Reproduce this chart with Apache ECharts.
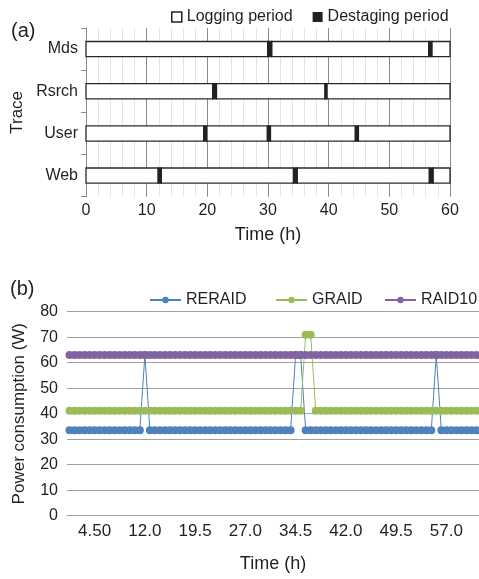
<!DOCTYPE html>
<html><head><meta charset="utf-8">
<script src="https://cdn.jsdelivr.net/npm/echarts@6/dist/echarts.min.js"></script>
<style>html,body{margin:0;padding:0;background:#fff}#c{width:479px;height:579px}</style>
</head><body><div id="c"></div>
<script>
// ---------- (a) logging / destaging timeline ----------
const traces = ['Mds', 'Rsrch', 'User', 'Web'];
const loggingPeriods = [
  ['Mds', 0, 29.95], ['Mds', 30.6, 56.5], ['Mds', 57.0, 60],
  ['Rsrch', 0, 20.9], ['Rsrch', 21.5, 39.4], ['Rsrch', 39.7, 60],
  ['User', 0, 19.4], ['User', 19.9, 29.9], ['User', 30.4, 44.4], ['User', 44.9, 60],
  ['Web', 0, 11.9], ['Web', 12.4, 34.2], ['Web', 34.8, 56.6], ['Web', 57.2, 60]
];
const destagingPeriods = [
  ['Mds', 29.95, 30.6], ['Mds', 56.5, 57.0],
  ['Rsrch', 20.9, 21.5], ['Rsrch', 39.4, 39.7],
  ['User', 19.4, 19.9], ['User', 29.9, 30.4], ['User', 44.4, 44.9],
  ['Web', 11.9, 12.4], ['Web', 34.2, 34.8], ['Web', 56.6, 57.2]
];

// ---------- (b) power consumption ----------
const times = [
  0.75, 1.5, 2.25, 3, 3.75, 4.5, 5.25, 6, 6.75, 7.5,
  8.25, 9, 9.75, 10.5, 11.25, 12, 12.75, 13.5, 14.25, 15,
  15.75, 16.5, 17.25, 18, 18.75, 19.5, 20.25, 21, 21.75, 22.5,
  23.25, 24, 24.75, 25.5, 26.25, 27, 27.75, 28.5, 29.25, 30,
  30.75, 31.5, 32.25, 33, 33.75, 34.5, 35.25, 36, 36.75, 37.5,
  38.25, 39, 39.75, 40.5, 41.25, 42, 42.75, 43.5, 44.25, 45,
  45.75, 46.5, 47.25, 48, 48.75, 49.5, 50.25, 51, 51.75, 52.5,
  53.25, 54, 54.75, 55.5, 56.25, 57, 57.75, 58.5, 59.25, 60,
  60.75, 61.5
];
const tickTimes = [4.5, 12, 19.5, 27, 34.5, 42, 49.5, 57];
const tickLabels = ['4.50', '12.0', '19.5', '27.0', '34.5', '42.0', '49.5', '57.0'];
const seriesNames = ['RERAID', 'GRAID', 'RAID10'];
const reraid = [
  33.5, 33.5, 33.5, 33.5, 33.5, 33.5, 33.5, 33.5, 33.5, 33.5,
  33.5, 33.5, 33.5, 33.5, 33.5, 63, 33.5, 33.5, 33.5, 33.5,
  33.5, 33.5, 33.5, 33.5, 33.5, 33.5, 33.5, 33.5, 33.5, 33.5,
  33.5, 33.5, 33.5, 33.5, 33.5, 33.5, 33.5, 33.5, 33.5, 33.5,
  33.5, 33.5, 33.5, 33.5, 33.5, 63, 63, 33.5, 33.5, 33.5,
  33.5, 33.5, 33.5, 33.5, 33.5, 33.5, 33.5, 33.5, 33.5, 33.5,
  33.5, 33.5, 33.5, 33.5, 33.5, 33.5, 33.5, 33.5, 33.5, 33.5,
  33.5, 33.5, 33.5, 63, 33.5, 33.5, 33.5, 33.5, 33.5, 33.5,
  33.5, 33.5
];
const graid = [
  41.2, 41.2, 41.2, 41.2, 41.2, 41.2, 41.2, 41.2, 41.2, 41.2,
  41.2, 41.2, 41.2, 41.2, 41.2, 41.2, 41.2, 41.2, 41.2, 41.2,
  41.2, 41.2, 41.2, 41.2, 41.2, 41.2, 41.2, 41.2, 41.2, 41.2,
  41.2, 41.2, 41.2, 41.2, 41.2, 41.2, 41.2, 41.2, 41.2, 41.2,
  41.2, 41.2, 41.2, 41.2, 41.2, 41.2, 41.2, 71, 71, 41.2,
  41.2, 41.2, 41.2, 41.2, 41.2, 41.2, 41.2, 41.2, 41.2, 41.2,
  41.2, 41.2, 41.2, 41.2, 41.2, 41.2, 41.2, 41.2, 41.2, 41.2,
  41.2, 41.2, 41.2, 41.2, 41.2, 41.2, 41.2, 41.2, 41.2, 41.2,
  41.2, 41.2
];
const raid10 = [
  63, 63, 63, 63, 63, 63, 63, 63, 63, 63,
  63, 63, 63, 63, 63, 63, 63, 63, 63, 63,
  63, 63, 63, 63, 63, 63, 63, 63, 63, 63,
  63, 63, 63, 63, 63, 63, 63, 63, 63, 63,
  63, 63, 63, 63, 63, 63, 63, 63, 63, 63,
  63, 63, 63, 63, 63, 63, 63, 63, 63, 63,
  63, 63, 63, 63, 63, 63, 63, 63, 63, 63,
  63, 63, 63, 63, 63, 63, 63, 63, 63, 63,
  63, 63
];

const FONT = "'Liberation Sans', Arial, Helvetica, sans-serif";
const TXT = '#231f20';

function periodRenderer(fill, stroke) {
  return function (params, api) {
    const cat = api.value(0);
    const a = api.coord([api.value(1), cat]);
    const b = api.coord([api.value(2), cat]);
    const h = api.size([0, 1])[1] * 0.36;
    return {
      type: 'rect',
      shape: { x: a[0], y: a[1] - h / 2, width: b[0] - a[0], height: h },
      style: { fill: fill, stroke: stroke, lineWidth: 1.3 }
    };
  };
}

function lineLegend(name, left) {
  return {
    left: left, top: 287, itemWidth: 31, itemHeight: 8,
    textStyle: { fontFamily: FONT, fontSize: 16, color: TXT },
    data: [name]
  };
}

const chart = echarts.init(document.getElementById('c'), null, { renderer: 'canvas' });
chart.setOption({
  animation: false,
  textStyle: { fontFamily: FONT, color: TXT },
  title: [
    { text: '(a)', left: 6, top: 16, textStyle: { fontFamily: FONT, fontSize: 20, fontWeight: 'normal', color: TXT } },
    { text: '(b)', left: 5, top: 274, textStyle: { fontFamily: FONT, fontSize: 20, fontWeight: 'normal', color: TXT } }
  ],
  legend: [
    {
      left: 166, top: 4, itemWidth: 10, itemHeight: 10, itemGap: 20,
      textStyle: { fontFamily: FONT, fontSize: 16, color: TXT },
      data: [
        { name: 'Logging period', icon: 'rect', itemStyle: { color: '#fff', borderColor: '#222', borderWidth: 1.5 } },
        { name: 'Destaging period', icon: 'rect', itemStyle: { color: '#222' } }
      ]
    },
    lineLegend(seriesNames[0], 144),
    lineLegend(seriesNames[1], 270),
    lineLegend(seriesNames[2], 379)
  ],
  grid: [
    { left: 86, right: 29, top: 28, height: 168.7 },
    { left: 67, right: 0, top: 311.7, height: 204 }
  ],
  xAxis: [
    {
      gridIndex: 0, type: 'value', min: 0, max: 60, interval: 10,
      name: 'Time (h)', nameLocation: 'middle', nameGap: 29,
      nameTextStyle: { fontFamily: FONT, fontSize: 18, color: TXT },
      axisLine: { show: false }, axisTick: { show: false },
      axisLabel: { fontFamily: FONT, fontSize: 16, color: TXT, margin: 6 },
      splitLine: { show: true, lineStyle: { color: '#8a8a8a', width: 1 } },
      minorTick: { show: false, splitNumber: 5 },
      minorSplitLine: { show: true, lineStyle: { color: '#e4e4e4', width: 1 } }
    },
    {
      gridIndex: 1, type: 'category', data: times, boundaryGap: true,
      name: 'Time (h)', nameLocation: 'middle', nameGap: 39,
      nameTextStyle: { fontFamily: FONT, fontSize: 18, color: TXT },
      axisLine: { show: true, lineStyle: { color: '#a0a0a0', width: 1 } },
      axisTick: { show: false },
      axisLabel: {
        fontFamily: FONT, fontSize: 17, color: TXT, margin: 7,
        interval: function (i, v) { return tickTimes.indexOf(Number(v)) >= 0; },
        formatter: function (v) { const k = tickTimes.indexOf(Number(v)); return k >= 0 ? tickLabels[k] : ''; }
      },
      splitLine: { show: false }
    }
  ],
  yAxis: [
    {
      gridIndex: 0, type: 'category', data: traces, inverse: true, boundaryGap: true,
      name: 'Trace', nameLocation: 'middle', nameGap: 47, nameRotate: 90,
      nameTextStyle: { fontFamily: FONT, fontSize: 17, color: TXT },
      axisLine: { show: true, lineStyle: { color: '#8a8a8a', width: 1 } },
      axisTick: { show: true, length: 5, lineStyle: { color: '#8a8a8a' } },
      axisLabel: { fontFamily: FONT, fontSize: 16, color: TXT, margin: 8 },
      splitLine: { show: false }
    },
    {
      gridIndex: 1, type: 'value', min: 0, max: 80, interval: 10,
      name: 'Power consumption (W)', nameLocation: 'middle', nameGap: 39, nameRotate: 90,
      nameTextStyle: { fontFamily: FONT, fontSize: 17, color: TXT },
      axisLine: { show: false }, axisTick: { show: false },
      axisLabel: { fontFamily: FONT, fontSize: 16, color: TXT, margin: 9 },
      splitLine: { show: true, lineStyle: { color: '#a0a0a0', width: 1 } }
    }
  ],
  series: [
    {
      name: 'Logging period', type: 'custom', xAxisIndex: 0, yAxisIndex: 0,
      renderItem: periodRenderer('#ffffff', '#2a2a2a'),
      itemStyle: { color: '#fff', borderColor: '#222' },
      encode: { x: [1, 2], y: 0 }, data: loggingPeriods, silent: true
    },
    {
      name: 'Destaging period', type: 'custom', xAxisIndex: 0, yAxisIndex: 0,
      renderItem: periodRenderer('#222222', '#222222'),
      itemStyle: { color: '#222' },
      encode: { x: [1, 2], y: 0 }, data: destagingPeriods, silent: true
    },
    {
      name: seriesNames[0], type: 'line', xAxisIndex: 1, yAxisIndex: 1, data: reraid,
      symbol: 'circle', symbolSize: 8, showAllSymbol: true, silent: true,
      lineStyle: { color: '#4f81bd', width: 1 },
      itemStyle: { color: '#4f81bd' }
    },
    {
      name: seriesNames[1], type: 'line', xAxisIndex: 1, yAxisIndex: 1, data: graid,
      symbol: 'circle', symbolSize: 8, showAllSymbol: true, silent: true,
      lineStyle: { color: '#9bbb59', width: 1 },
      itemStyle: { color: '#9bbb59' }
    },
    {
      name: seriesNames[2], type: 'line', xAxisIndex: 1, yAxisIndex: 1, data: raid10,
      symbol: 'circle', symbolSize: 8, showAllSymbol: true, silent: true,
      lineStyle: { color: '#8064a2', width: 1 },
      itemStyle: { color: '#8064a2' }
    }
  ]
});
</script>
</body></html>
